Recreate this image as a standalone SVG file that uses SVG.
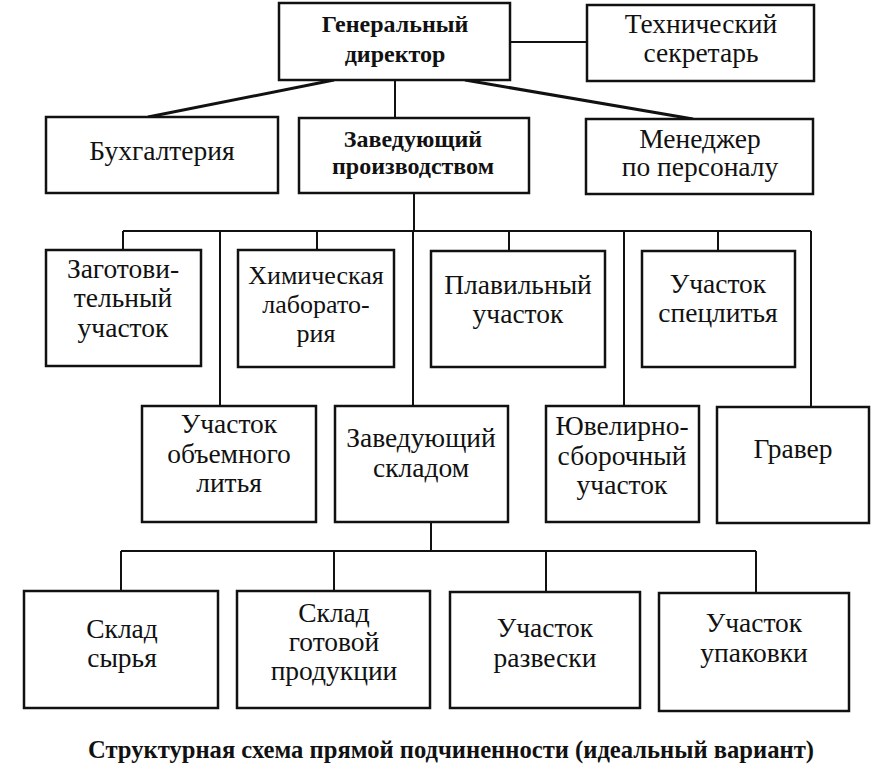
<svg xmlns="http://www.w3.org/2000/svg" width="872" height="776" viewBox="0 0 872 776">
<style>
.box{fill:#fff;stroke:#111;stroke-width:2.5}
.ln{stroke:#111;stroke-width:2;fill:none}
.dg{stroke:#111;stroke-width:3;fill:none}
text{font-family:'Liberation Serif','DejaVu Serif',serif;font-size:27.5px;fill:#111;text-anchor:middle}
.b{font-weight:bold;font-size:24px}
.s{font-size:26px}
.cap{font-weight:bold;font-size:24.6px}
</style>
<rect width="872" height="776" fill="#fff"/>
<g id="connectors">
<line class="ln" x1="510" y1="42" x2="587" y2="42"/>
<line class="dg" x1="334" y1="80" x2="148" y2="117"/>
<line class="ln" x1="395" y1="80" x2="395" y2="118"/>
<line class="dg" x1="465" y1="80" x2="693" y2="119"/>
<line class="ln" x1="414" y1="193" x2="414" y2="231"/>
<line class="ln" x1="123" y1="231" x2="811" y2="231"/>
<line class="ln" x1="123" y1="231" x2="123" y2="250"/>
<line class="ln" x1="220" y1="231" x2="220" y2="406"/>
<line class="ln" x1="317" y1="231" x2="317" y2="250"/>
<line class="ln" x1="413" y1="231" x2="413" y2="406"/>
<line class="ln" x1="509" y1="231" x2="509" y2="251"/>
<line class="ln" x1="624" y1="231" x2="624" y2="406"/>
<line class="ln" x1="718" y1="231" x2="718" y2="251"/>
<line class="ln" x1="811" y1="231" x2="811" y2="407"/>
<line class="ln" x1="431" y1="522" x2="431" y2="551"/>
<line class="ln" x1="121" y1="551" x2="756" y2="551"/>
<line class="ln" x1="121" y1="551" x2="121" y2="591"/>
<line class="ln" x1="334" y1="551" x2="334" y2="591"/>
<line class="ln" x1="546" y1="551" x2="546" y2="592"/>
<line class="ln" x1="756" y1="551" x2="756" y2="593"/>
</g>
<g id="gen-director"><rect class="box" x="279" y="3" width="231" height="77"/><text class="b" x="395" y="32">Генеральный</text><text class="b" x="395" y="62">директор</text></g>
<g id="tech-secretary"><rect class="box" x="587" y="5" width="227" height="76"/><text x="701" y="33">Технический</text><text x="701" y="62">секретарь</text></g>
<g id="accounting"><rect class="box" x="46" y="117" width="232" height="76"/><text x="162" y="160">Бухгалтерия</text></g>
<g id="production-head"><rect class="box" x="299" y="118" width="230" height="75"/><text class="b" x="413" y="147">Заведующий</text><text class="b" x="413" y="174">производством</text></g>
<g id="hr-manager"><rect class="box" x="586" y="119" width="227" height="75"/><text x="700" y="148">Менеджер</text><text x="700" y="176">по персоналу</text></g>
<g id="prep"><rect class="box" x="46" y="250" width="155" height="116"/><text x="123" y="278">Заготови-</text><text x="123" y="307">тельный</text><text x="123" y="337">участок</text></g>
<g id="chem-lab"><rect class="box" x="238" y="250" width="156" height="117"/><text class="s" x="316" y="284">Химическая</text><text class="s" x="316" y="313">лаборато-</text><text class="s" x="316" y="342">рия</text></g>
<g id="melting"><rect class="box" x="431" y="251" width="174" height="116"/><text x="518" y="294">Плавильный</text><text x="518" y="323">участок</text></g>
<g id="special-casting"><rect class="box" x="642" y="251" width="153" height="116"/><text x="718" y="293">Участок</text><text x="718" y="322">спецлитья</text></g>
<g id="volume-casting"><rect class="box" x="142" y="406" width="174" height="116"/><text x="229" y="433">Участок</text><text x="229" y="463">объемного</text><text x="229" y="492">литья</text></g>
<g id="warehouse-head"><rect class="box" x="335" y="406" width="173" height="116"/><text x="421" y="447">Заведующий</text><text x="421" y="477">складом</text></g>
<g id="jewelry-assembly"><rect class="box" x="546" y="406" width="153" height="116"/><text x="622" y="435">Ювелирно-</text><text x="622" y="465">сборочный</text><text x="622" y="494">участок</text></g>
<g id="engraver"><rect class="box" x="717" y="407" width="152" height="116"/><text x="793" y="458">Гравер</text></g>
<g id="raw-store"><rect class="box" x="24" y="591" width="194" height="117"/><text x="122" y="638">Склад</text><text x="122" y="667">сырья</text></g>
<g id="finished-store"><rect class="box" x="237" y="591" width="193" height="117"/><text x="334" y="622">Склад</text><text x="334" y="651">готовой</text><text x="334" y="680">продукции</text></g>
<g id="weighing"><rect class="box" x="450" y="592" width="190" height="116"/><text x="545" y="637">Участок</text><text x="545" y="667">развески</text></g>
<g id="packing"><rect class="box" x="659" y="593" width="190" height="118"/><text x="754" y="632">Участок</text><text x="754" y="662">упаковки</text></g>
<text class="cap" x="451" y="758">Структурная схема прямой подчиненности (идеальный вариант)</text>
</svg>
